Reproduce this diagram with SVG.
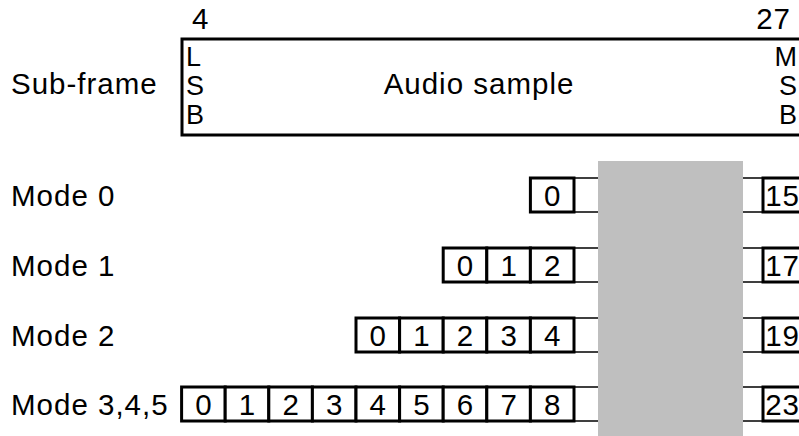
<svg xmlns="http://www.w3.org/2000/svg" width="799" height="436" viewBox="0 0 799 436">
<style>
text{font-family:"Liberation Sans",Arial,sans-serif;font-size:29.5px;fill:#000;letter-spacing:1px}
.c{text-anchor:middle}
.r{text-anchor:end}
.v{font-size:27px;letter-spacing:0}
.cell{fill:#fff;stroke:#000;stroke-width:3}
.empty{fill:#fff;stroke:#000;stroke-width:1.5}
</style>
<rect width="799" height="436" fill="#fff"/>
<g id="subframe">
<text x="11" y="94">Sub-frame</text>
<text x="192" y="29">4</text>
<text x="791" y="29" class="r">27</text>
<rect x="182" y="39" width="640" height="96" fill="#fff" stroke="#000" stroke-width="3"/>
<text class="v" x="186" y="66">L</text>
<text class="v" x="186" y="95">S</text>
<text class="v" x="186" y="124">B</text>
<text x="479" y="94" class="c">Audio sample</text>
<text class="r v" x="797" y="66">M</text>
<text class="r v" x="797" y="95">S</text>
<text class="r v" x="797" y="124">B</text>
</g>
<g id="mode0">
<text x="11" y="206">Mode 0</text>
<rect class="empty" x="574" y="178" width="40" height="34"/>
<rect class="empty" x="725" y="178" width="38" height="34"/>
<rect class="cell" x="530.4" y="178" width="43.6" height="34"/><text class="c" x="552.7" y="206">0</text>
<rect class="cell" x="763" y="178" width="50" height="34"/><text class="r" x="800" y="206">15</text>
</g>
<g id="mode1">
<text x="11" y="276">Mode 1</text>
<rect class="empty" x="574" y="248" width="40" height="34"/>
<rect class="empty" x="725" y="248" width="38" height="34"/>
<rect class="cell" x="443.2" y="248" width="43.6" height="34"/><text class="c" x="465.5" y="276">0</text>
<rect class="cell" x="486.8" y="248" width="43.6" height="34"/><text class="c" x="509.1" y="276">1</text>
<rect class="cell" x="530.4" y="248" width="43.6" height="34"/><text class="c" x="552.7" y="276">2</text>
<rect class="cell" x="763" y="248" width="50" height="34"/><text class="r" x="800" y="276">17</text>
</g>
<g id="mode2">
<text x="11" y="346">Mode 2</text>
<rect class="empty" x="574" y="318" width="40" height="34"/>
<rect class="empty" x="725" y="318" width="38" height="34"/>
<rect class="cell" x="356" y="318" width="43.6" height="34"/><text class="c" x="378.3" y="346">0</text>
<rect class="cell" x="399.6" y="318" width="43.6" height="34"/><text class="c" x="421.9" y="346">1</text>
<rect class="cell" x="443.2" y="318" width="43.6" height="34"/><text class="c" x="465.5" y="346">2</text>
<rect class="cell" x="486.8" y="318" width="43.6" height="34"/><text class="c" x="509.1" y="346">3</text>
<rect class="cell" x="530.4" y="318" width="43.6" height="34"/><text class="c" x="552.7" y="346">4</text>
<rect class="cell" x="763" y="318" width="50" height="34"/><text class="r" x="800" y="346">19</text>
</g>
<g id="mode345">
<text x="11" y="415">Mode 3,4,5</text>
<rect class="empty" x="574" y="387" width="40" height="34"/>
<rect class="empty" x="725" y="387" width="38" height="34"/>
<rect class="cell" x="181.6" y="387" width="43.6" height="34"/><text class="c" x="203.9" y="415">0</text>
<rect class="cell" x="225.2" y="387" width="43.6" height="34"/><text class="c" x="247.5" y="415">1</text>
<rect class="cell" x="268.8" y="387" width="43.6" height="34"/><text class="c" x="291.1" y="415">2</text>
<rect class="cell" x="312.4" y="387" width="43.6" height="34"/><text class="c" x="334.7" y="415">3</text>
<rect class="cell" x="356" y="387" width="43.6" height="34"/><text class="c" x="378.3" y="415">4</text>
<rect class="cell" x="399.6" y="387" width="43.6" height="34"/><text class="c" x="421.9" y="415">5</text>
<rect class="cell" x="443.2" y="387" width="43.6" height="34"/><text class="c" x="465.5" y="415">6</text>
<rect class="cell" x="486.8" y="387" width="43.6" height="34"/><text class="c" x="509.1" y="415">7</text>
<rect class="cell" x="530.4" y="387" width="43.6" height="34"/><text class="c" x="552.7" y="415">8</text>
<rect class="cell" x="763" y="387" width="50" height="34"/><text class="r" x="800" y="415">23</text>
</g>
<g id="gap">
<rect x="598" y="161" width="145" height="275" fill="#bfbfbf"/>
</g>
</svg>
